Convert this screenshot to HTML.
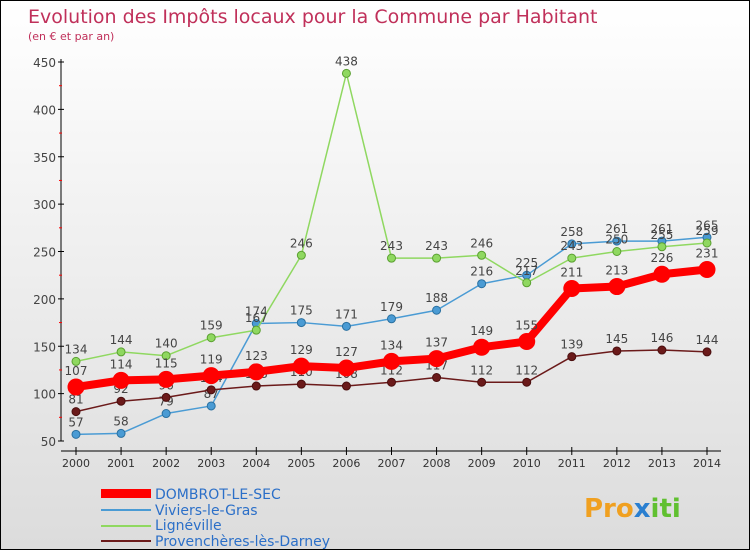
<!DOCTYPE html>
<html><head><meta charset="utf-8"><style>
body{margin:0}
#c{width:748px;height:548px;border:1px solid #000;background:linear-gradient(#fff,#dcdcdc);position:relative;overflow:hidden;font-family:"DejaVu Sans","Liberation Sans",sans-serif}
</style></head><body>
<div id="c">
<svg id="s" width="748" height="548">
<text x="27" y="22" font-size="19" fill="#c0305a">Evolution des Impôts locaux pour la Commune par Habitant</text>
<text x="27" y="39" font-size="11" fill="#c0305a">(en € et par an)</text>
<g id="axes"></g><g id="series"></g>
<g>
<rect x="100" y="488" width="50" height="9" fill="#f00"/>
<text x="154" y="498" font-size="14" fill="#2b6fc8">DOMBROT-LE-SEC</text>
<rect x="100" y="508" width="50" height="2" fill="#4a9bd4"/>
<text x="154" y="514" font-size="14" fill="#2b6fc8">Viviers-le-Gras</text>
<rect x="100" y="524" width="50" height="2" fill="#8fd860"/>
<text x="154" y="529" font-size="14" fill="#2b6fc8">Lignéville</text>
<rect x="100" y="539" width="50" height="2" fill="#6b1a1a"/>
<text x="154" y="545" font-size="14" fill="#2b6fc8">Provenchères-lès-Darney</text>
</g>
<text x="583" y="516" font-size="26" font-weight="bold" fill="#f0a020">Pro<tspan fill="#2a7fd0">x</tspan><tspan fill="#60c030">iti</tspan></text>
</svg></div>
<script>
const years=[2000,2001,2002,2003,2004,2005,2006,2007,2008,2009,2010,2011,2012,2013,2014];
const yTicks=[50,100,150,200,250,300,350,400,450];
const dombrot=[107,114,115,119,123,129,127,134,137,149,155,211,213,226,231];
const viviers=[57,58,79,87,174,175,171,179,188,216,225,258,261,261,265];
const ligneville=[134,144,140,159,167,246,438,243,243,246,217,243,250,255,259];
const provencheres=[81,92,96,104,108,110,108,112,117,112,112,139,145,146,144];
const NS="http://www.w3.org/2000/svg";
const X=i=>75+i*(706-75)/14, Y=v=>440-(v-50)*(440-61)/400;
function mk(t,a,p){const e=document.createElementNS(NS,t);for(const k in a)e.setAttribute(k,a[k]);p.appendChild(e);return e;}
const ax=document.getElementById('axes'),sr=document.getElementById('series');
const yl=mk('line',{x1:60,y1:58,x2:60,y2:440,stroke:'#000'},ax);

const xl=mk('line',{x1:60,y1:450,x2:720,y2:450,stroke:'#000'},ax);

yTicks.forEach(v=>{mk('line',{x1:57,y1:Y(v),x2:63,y2:Y(v),stroke:'#000'},ax);
if(v<450)mk('line',{x1:58,y1:Y(v+25),x2:61,y2:Y(v+25),stroke:'#f00'},ax);
const t=mk('text',{x:55,y:Y(v)+5,'text-anchor':'end','font-size':12,fill:'#444'},ax);t.textContent=v;
});
years.forEach((y,i)=>{mk('line',{x1:X(i),y1:446,x2:X(i),y2:454,stroke:'#000'},ax);
const t=mk('text',{x:X(i),y:466,'text-anchor':'middle','font-size':11,fill:'#333'},ax);t.textContent=y;
});
function series(d,name,col,w,r,stroke){
const g=mk('g',{},sr);
const p=mk('polyline',{points:d.map((v,i)=>X(i)+','+Y(v)).join(' '),fill:'none',stroke:col,'stroke-width':w,'stroke-linejoin':'round'},g);

d.forEach((v,i)=>{const c=mk('circle',{cx:X(i),cy:Y(v),r:r,fill:col,stroke:stroke,'stroke-width':1},g);

const t=mk('text',{x:X(i),y:Y(v)-r-4,'text-anchor':'middle','font-size':12,fill:'#444'},g);t.textContent=v;
});}
series(viviers,'viviers','#4a9bd4',1.5,4,'#2a70a0');
series(ligneville,'ligneville','#8fd860',1.5,4,'#5aa030');
series(provencheres,'provencheres','#6b1a1a',1.5,4,'#4a0e0e');
series(dombrot,'dombrot','#f00',8,8,'#f00');
</script></body></html>
